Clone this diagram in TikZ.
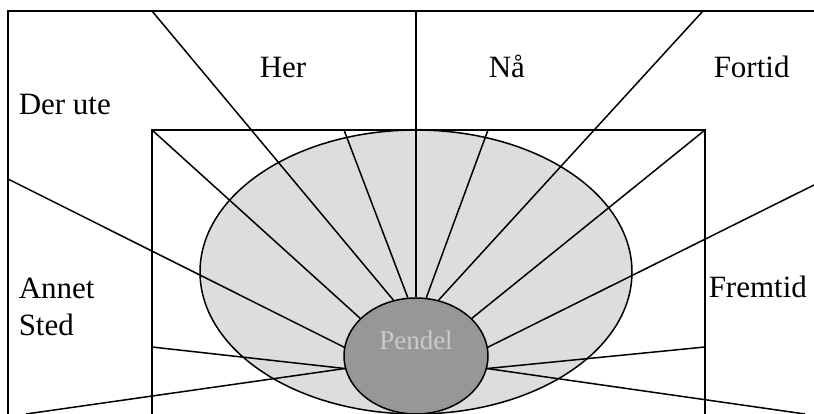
\documentclass[tikz,border=0pt]{standalone}
\usepackage{fontspec}
\setmainfont{Liberation Serif}
\usetikzlibrary{shapes.geometric}
\definecolor{fieldc}{HTML}{DDDDDD}
\definecolor{pendc}{HTML}{979797}
\definecolor{pendtxt}{HTML}{CACACA}

\begin{document}
\begin{tikzpicture}[x=1pt, y=-1pt, line width=1.5pt,
    lbl/.style={anchor=base west, inner sep=0pt, font=\fontsize{31}{37}\selectfont}]
  \useasboundingbox (0,0) rectangle (814,414);
  \begin{scope}
    \clip (0,0) rectangle (814,414);
    % frame and box
    \draw[line width=2pt] (8,414) -- (8,11) -- (814,11);
    \draw (152,414) -- (152,130) -- (705,130) -- (705,414);
    \draw[fill=fieldc] (416,272) ellipse [x radius=216, y radius=142];
    \node[ellipse, draw, fill=pendc, minimum width=144pt, minimum height=116pt,
          inner sep=0pt] (pendel) at (416,356) {};
    % ray ends
    \coordinate (topl) at (152,11);
    \coordinate (topm) at (416,11);
    \coordinate (topr) at (703,11);
    \coordinate (boxtl) at (152,130);
    \coordinate (boxt1) at (344,130);
    \coordinate (boxt2) at (488,130);
    \coordinate (boxtr) at (705,130);
    \coordinate (lft) at (8,179);
    \coordinate (rgt) at (814,185);
    \coordinate (boxl) at (152,347);
    \coordinate (boxr) at (705,347);
    \coordinate (botl) at (26,414);
    \coordinate (botr) at (805,414);
    \foreach \p/\a in {topl/112,boxt1/98,topm/90,boxt2/80,topr/68,boxtl/146,
        boxtr/34,lft/173,rgt/7,boxl/190,botl/190,boxr/350,botr/350}
      \draw (\p) -- (pendel.\a);
  \end{scope}
  \node[font=\fontsize{27}{30}\selectfont, text=pendtxt] (pendeltxt)
    at ([yshift=16pt]pendel.center) {Pendel};
  \node[lbl] (derute) at (18,115) {Der ute};
  \node[lbl] (her) at (259,78) {Her};
  \node[lbl] (naa) at (488,78) {Nå};
  \node[lbl] (fortid) at (713,78) {Fortid};
  \node[lbl, align=left] (annet) at (18,335) {Annet\\Sted};
  \node[lbl] (fremtid) at (708,298) {Fremtid};
\end{tikzpicture}
\end{document}
